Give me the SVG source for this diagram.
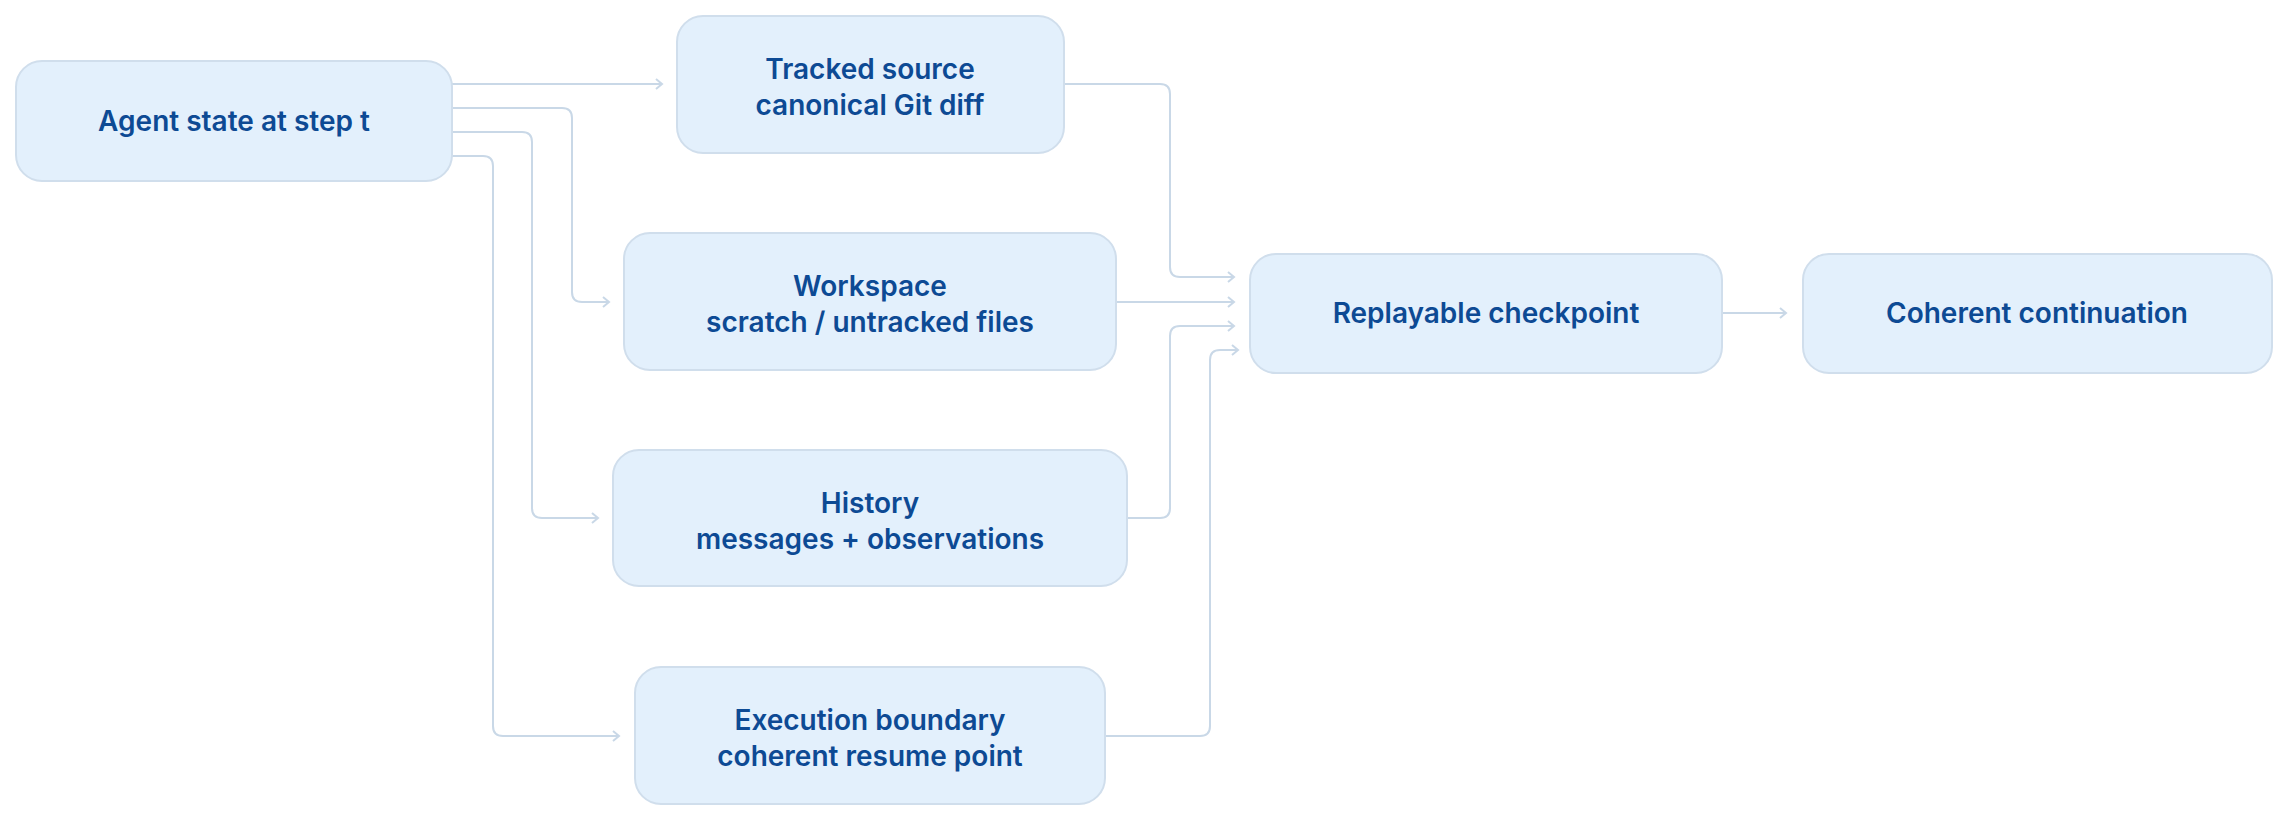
<svg xmlns="http://www.w3.org/2000/svg" width="2289" height="821" viewBox="0 0 2289 821">
<style>
.n rect{fill:#e3f0fc;stroke:#d0deec;stroke-width:2}
.n text{font-family:Inter,"Noto Sans",sans-serif;font-weight:600;font-size:28px;fill:#0d4a94;text-anchor:middle}
.c path{fill:none;stroke:#c9d8e7;stroke-width:2;marker-end:url(#a)}
</style>
<defs><marker id="a" markerWidth="12" markerHeight="12" refX="10" refY="6" orient="auto" markerUnits="userSpaceOnUse"><path d="M4,1 L10,6 L4,11" fill="none" stroke="#c9d8e7" stroke-width="2"/></marker></defs>
<rect width="2289" height="821" fill="#fff"/>
<g class="c">
<path d="M452,84 H662"/>
<path d="M452,108 H562 Q572,108 572,118 V292 Q572,302 582,302 H609"/>
<path d="M452,132 H522 Q532,132 532,142 V508 Q532,518 542,518 H598"/>
<path d="M452,156 H483 Q493,156 493,166 V726 Q493,736 503,736 H619"/>
<path d="M1064,84 H1160 Q1170,84 1170,94 V267 Q1170,277 1180,277 H1234"/>
<path d="M1116,302 H1234"/>
<path d="M1127,518 H1160 Q1170,518 1170,508 V336 Q1170,326 1180,326 H1234"/>
<path d="M1105,736 H1200 Q1210,736 1210,726 V360 Q1210,350 1220,350 H1238"/>
<path d="M1722,313 H1786"/>
</g>
<g class="n" id="agent"><rect x="16" y="61" width="436" height="120" rx="26"/><text x="234" y="131">Agent state at step t</text></g>
<g class="n" id="tracked"><rect x="677" y="16" width="387" height="137" rx="26"/><text x="870" y="79">Tracked source</text><text x="870" y="115">canonical Git diff</text></g>
<g class="n" id="workspace"><rect x="624" y="233" width="492" height="137" rx="26"/><text x="870" y="296">Workspace</text><text x="870" y="332">scratch / untracked files</text></g>
<g class="n" id="history"><rect x="613" y="450" width="514" height="136" rx="26"/><text x="870" y="513">History</text><text x="870" y="549">messages + observations</text></g>
<g class="n" id="execution"><rect x="635" y="667" width="470" height="137" rx="26"/><text x="870" y="730">Execution boundary</text><text x="870" y="766">coherent resume point</text></g>
<g class="n" id="checkpoint"><rect x="1250" y="254" width="472" height="119" rx="26"/><text x="1486" y="323">Replayable checkpoint</text></g>
<g class="n" id="continuation"><rect x="1803" y="254" width="469" height="119" rx="26"/><text x="2037" y="323">Coherent continuation</text></g>
</svg>
